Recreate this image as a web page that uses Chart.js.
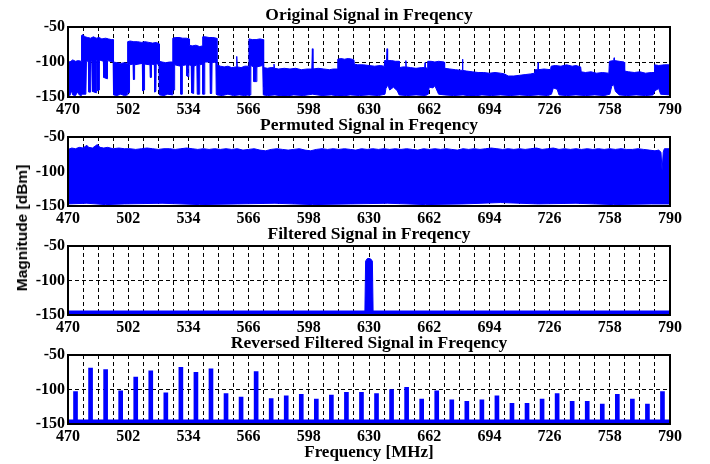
<!DOCTYPE html>
<html>
<head>
<meta charset="utf-8">
<script src="https://cdn.jsdelivr.net/npm/chart.js@4.4.0/dist/chart.umd.min.js"></script>
<style>
  body { margin: 0; background: #fff; }
  #wrap { position: relative; width: 710px; height: 464px; overflow: hidden; }
  #wrap canvas { position: absolute; left: 0; }
  .ylab {
    position: absolute; left: 21.5px; top: 228px;
    transform: translate(-50%, -50%) rotate(-90deg);
    font: bold 15.5px "Liberation Sans", Arial, sans-serif;
    white-space: nowrap; color: #000;
  }
</style>
</head>
<body>
<div id="wrap">
  <canvas id="c1" width="710" height="120" style="top:0px"></canvas>
  <canvas id="c2" width="710" height="119" style="top:110px"></canvas>
  <canvas id="c3" width="710" height="119" style="top:219px"></canvas>
  <canvas id="c4" width="710" height="136" style="top:328px"></canvas>
  <div class="ylab">Magnitude [dBm]</div>
</div>
<script>
// x range + labels
const fMin = 470, fMax = 790;
const xLabels = [470, 502, 534, 566, 598, 630, 662, 694, 726, 758, 790];
const yTicks = [-150, -100, -50];

// original signal: upper / lower envelope [MHz, dBm]
const top1 = [[470,-98],[471,-100],[472.5,-97],[474,-99],[475.5,-98],[477,-99],
  [477.2,-62],[478,-61],[479,-64],[480.5,-65],[482,-66],[483.5,-64],[485,-66],[486.5,-65],[488,-67],[490,-66],[491.5,-67],[493,-68],[494,-68],
  [494.2,-100],[496,-101],[498,-102],[500,-101],[501.5,-102],
  [501.7,-71],[503,-70],[505,-71],[507,-71],[509,-72],[511,-71],[513,-72],[515,-73],[517,-72],[518.4,-74],
  [518.6,-99],[520,-100],[522,-101],[524,-100],[525.5,-100],
  [525.7,-66],[527,-65],[529,-65],[531,-66],[533,-66],[534.4,-67],
  [534.6,-76],[536,-77],[538,-76],[540,-78],[541.4,-77],
  [541.6,-64],[543,-64],[545,-65],[547,-65],[549,-66],
  [549.2,-104],[551,-106],[553,-107],[555,-106],[557,-108],[559.4,-107],[559.7,-92],[560,-107],[562,-108],[564,-106],[566,-106],
  [566.2,-67],[568,-68],[570,-68],[572,-67],[573.8,-68],
  [574,-108],[576,-109],[578,-108],[579.3,-108],[579.5,-103],[579.8,-109],[582,-110],[585,-109],[588,-110],[591,-109],[594,-111],[597,-110],[599.6,-110],[599.9,-81],[600.2,-110],[603,-109],[606,-110],[609,-111],[611,-110],[613.2,-110],
  [613.4,-96],[615,-95],[617,-96],[619,-95],[621,-96],[622,-97],
  [622.2,-103],[624,-104],[627,-104],[630,-105],[633,-106],[636,-105],[638,-106],
  [638.2,-98],[639.3,-98],[639.6,-81],[639.9,-98],[642,-98],[644,-99],[646,-99],
  [646.2,-108],[648,-107],[649.4,-107],[649.6,-98],[649.8,-107],[652,-108],[655,-109],[658,-108],[659.6,-108],[659.8,-101],[660,-108],[661,-109],
  [661.2,-99],[663,-99],[665,-100],[667,-99],[670,-100],
  [670.2,-109],[673,-110],[676,-111],[679.5,-112],[679.7,-96],[679.9,-112],[682,-113],[685,-114],[688,-115],[691,-115],[694,-116],[697,-115],[700,-116],[702,-117],
  [704,-120],[707,-120],[710,-119],[713,-118],[716,-117],[718,-116],
  [718.3,-111],[719.7,-111],[719.9,-101],[720.1,-111],[723,-110],[726.5,-111],
  [726.8,-106],[729,-105],[732,-106],[735,-104],[738,-106],[740,-105],[742.5,-107],
  [742.8,-114],[745,-115],[748,-114],[751,-116],[754,-115],[757.5,-116],
  [757.8,-99],[760.1,-98],[760.3,-94],[760.5,-98],[763,-99],[765.6,-100],
  [765.9,-113],[768,-114],[771,-115],[774,-114],[777,-116],[780,-115],[781.5,-115],
  [781.8,-104],[784,-105],[787,-104],[790,-104]];
const bot1 = [[470,-146],[471,-148],[472,-141],[472.5,-147],[474,-148],[475,-143],[476,-147],[477,-148],
  [477.2,-146],[479.5,-146],[479.8,-100],[480.8,-98],[481.1,-143],[482,-143],[482.3,-97],[482.8,-100],[483,-142],[485,-144],[485.2,-98],[485.6,-97],[485.8,-141],[486.5,-140],[486.7,-97],[488.8,-99],[489,-122],[490.8,-124],[491,-98],[494,-100],
  [494.2,-147],[496,-148],[498,-146],[500,-148],[501.5,-147],
  [501.8,-143],[502.5,-144],[502.7,-104],[504.6,-103],[504.8,-125],[505.2,-125],[505.4,-104],[509.5,-102],[509.7,-141],[510.5,-140],[510.7,-103],[513.6,-104],[513.8,-122],[514.2,-122],[514.4,-103],[515.9,-104],[516.1,-143],[516.7,-142],[516.9,-102],[518.4,-104],
  [518.6,-147],[521,-148],[523,-146],[525.5,-147],
  [525.7,-140],[526.5,-140],[526.7,-104],[529.8,-106],[530,-146],[530.6,-146],[530.8,-105],[533,-104],[533.2,-120],[534,-121],[534.2,-104],[535.5,-105],[535.7,-144],[536.8,-145],[537,-106],[538.5,-104],[538.7,-146],[539.8,-146],[540,-104],[541.5,-103],[541.7,-146],[542.5,-146],[542.7,-100],[545.5,-100],[545.7,-145],[546.4,-145],[546.6,-101],[548.6,-100],[548.8,-146],
  [549.2,-147],[552,-148],[555,-146],[558,-148],[561,-147],[564,-148],[566,-147],
  [566.2,-148],[567,-147],[567.2,-105],[568.6,-107],[568.8,-128],[570.2,-128],[570.4,-107],[573.5,-105],[573.8,-147],
  [576,-148],[580,-147],[585,-149],[590,-147],[595,-148],[600,-146],[605,-148],[610,-147],[615,-149],[620,-147],[625,-148],[630,-147],[635,-148],
  [638.5,-146],[639,-138],[640,-133],[641,-140],[643,-136],[645,-141],[646,-147],[650,-148],[655,-147],[660,-148],
  [661.5,-146],[662,-136],[664,-137],[665,-134],[667,-146],[670,-147],[675,-148],[680,-147],[685,-149],[690,-147],[695,-148],[700,-147],[705,-148],[710,-147],[715,-148],[720,-147],[725,-148],
  [727,-146],[728,-137],[730,-139],[731,-147],[735,-148],[740,-147],[745,-148],[750,-147],[755,-148],
  [758,-146],[759,-135],[760,-132],[761,-142],[763,-147],[767,-148],[772,-147],[777,-148],[781,-147],[782,-141],[784,-138],[785,-146],[790,-147]];

// permuted signal envelopes
const top2 = [[470,-68],[472,-66],[474,-67],[476,-65],[478,-66],[480,-62],[481,-65],[483,-66],[485.6,-61],[487,-65],[489,-66],[491,-65],[494,-67],[497,-66],[500,-67],[503,-67],[506,-68],[509,-67],[512,-66],[515,-67],[518,-68],[521,-67],[524,-67],[527,-68],[530,-67],[533,-66],[536,-67],[539,-68],[542,-67],[545,-68],[548,-67],[551,-68],[554,-67],[557,-68],[560,-67],[563,-69],[566,-68],[569,-67],[572,-69],[575,-70],[578,-68],[581,-67],[584,-68],[587,-69],[590,-68],[593,-67],[596,-69],[599,-70],[602,-68],[605,-67],[608,-68],[611,-67],[614,-68],[617,-67],[620,-68],[623,-69],[626,-67],[629,-68],[632,-67],[635,-68],[638,-67],[641,-68],[644,-67],[647,-68],[650,-67],[653,-68],[656,-69],[659,-67],[662,-68],[665,-67],[668,-68],[671,-67],[674,-68],[677,-69],[680,-67],[683,-68],[686,-67],[689,-68],[692,-67],[695,-66],[698,-67],[701,-68],[704,-67],[707,-68],[710,-67],[713,-68],[716,-67],[719,-66],[722,-68],[725,-67],[728,-66],[731,-68],[734,-67],[737,-68],[740,-67],[743,-68],[746,-67],[749,-68],[752,-67],[755,-68],[758,-67],[761,-68],[764,-67],[767,-68],[770,-68],[773,-67],[776,-68],[779,-69],[782,-70],[784,-69],[785.2,-72],[785.8,-99],[786.4,-72],[787,-67],[790,-67]];
const bot2 = [[470,-147],[480,-146],[490,-148],[500,-147],[520,-146],[540,-148],[560,-147],[580,-146],[600,-148],[620,-147],[640,-146],[660,-148],[680,-147],[700,-145],[720,-147],[740,-146],[760,-148],[780,-147],[790,-147]];

// filtered signal
const floorF = [470, 790];
const floorV = [-147, -147];
const peak3 = [[627.8,-147],[628.2,-72],[629,-68.5],[630,-68],[631,-69],[631.8,-72],[632.2,-147]];
const peak3Base = [[627.8,-147],[632.2,-147]];

// reversed filtered signal: stems
const stemF = [474,482,490,498,506,514,522,530,538,546,554,562,570,578,586,594,602,610,618,626,634,642,650,658,666,674,682,690,698,706,714,722,730,738,746,754,762,770,778,786];
const stemV = [-103,-69,-71,-102,-82,-73,-105,-68,-75,-70,-106,-111,-74,-113,-109,-107,-114,-108,-104,-104,-106,-100,-97,-114,-102,-115,-117,-115,-109,-120,-120,-114,-106,-117,-117,-121,-107,-114,-121,-103];

const BLUE = '#0000ff';
const SERIF = '"Liberation Serif", "Times New Roman", serif';
const tickFont = { family: SERIF, size: 16, weight: 'bold' };
const titleFont = { family: SERIF, size: 17.5, weight: 'bold', lineHeight: 1.2 };
const xTitleFont = { family: SERIF, size: 17, weight: 'bold', lineHeight: 1.2 };

const toPts = arr => arr.map(p => ({ x: p[0], y: p[1] }));

const frame = {
  id: 'frame',
  afterDatasetsDraw(chart) {
    const { ctx, chartArea: a } = chart;
    ctx.save();
    ctx.strokeStyle = '#000';
    ctx.lineWidth = 2;
    ctx.strokeRect(a.left, a.top, a.right - a.left, a.bottom - a.top);
    ctx.restore();
  }
};

function options(title, xHeight, xTitle) {
  return {
    responsive: false,
    animation: false,
    layout: { padding: { left: 0, right: 40, top: 0, bottom: 0 } },
    plugins: {
      legend: { display: false },
      tooltip: { enabled: false },
      title: {
        display: true, text: title, color: '#000', fullSize: false,
        font: titleFont,
        padding: { top: 5, bottom: 1 }
      }
    },
    scales: {
      x: {
        type: 'linear', min: fMin, max: fMax, offset: false,
        afterFit: s => { s.height = xHeight; },
        grid: { color: '#000', lineWidth: 1, drawTicks: false, offset: false },
        border: { display: false, dash: [4, 3] },
        ticks: {
          stepSize: 8, autoSkip: false, maxRotation: 0, minRotation: 0, padding: 3,
          color: '#000', font: tickFont,
          callback: v => xLabels.includes(v) ? String(v) : ''
        },
        title: xTitle ? {
          display: true, text: xTitle, color: '#000',
          font: xTitleFont,
          padding: { top: 0, bottom: 1.5 }
        } : { display: false }
      },
      y: {
        type: 'linear', min: -150, max: -50,
        afterFit: s => { s.width = 68; },
        afterBuildTicks: s => { s.ticks = yTicks.map(v => ({ value: v })); },
        grid: { color: '#000', lineWidth: 1, drawTicks: false },
        border: { display: false, dash: [4, 3] },
        ticks: { padding: 3, color: '#000', font: tickFont }
      }
    }
  };
}

// two outlines, filled between
const band = (up, lo) => [
  { data: toPts(up), borderColor: BLUE, backgroundColor: BLUE, borderWidth: 1, pointRadius: 0, fill: '+1', tension: 0 },
  { data: toPts(lo), borderColor: BLUE, backgroundColor: BLUE, borderWidth: 1, pointRadius: 0, fill: false, tension: 0 }
];
const floorLine = () => ({
  data: floorF.map((f, i) => ({ x: f, y: floorV[i] })),
  borderColor: BLUE, borderWidth: 5, pointRadius: 0, fill: false
});

new Chart(document.getElementById('c1'), {
  type: 'line',
  data: { datasets: band(top1, bot1) },
  options: options('Original Signal in Freqency', 23),
  plugins: [frame]
});

new Chart(document.getElementById('c2'), {
  type: 'line',
  data: { datasets: band(top2, bot2) },
  options: options('Permuted Signal in Freqency', 23),
  plugins: [frame]
});

new Chart(document.getElementById('c3'), {
  type: 'line',
  data: { datasets: [floorLine(), ...band(peak3, peak3Base)] },
  options: options('Filtered Signal in Freqency', 23),
  plugins: [frame]
});

new Chart(document.getElementById('c4'), {
  type: 'line',
  data: {
    datasets: [
      floorLine(),
      {
        type: 'bar',
        data: stemF.map((f, i) => ({ x: f, y: [-147, stemV[i]] })),
        backgroundColor: BLUE, borderWidth: 0, barThickness: 4,
        borderRadius: 2
      }
    ]
  },
  options: options('Reversed Filtered Signal in Freqency', 40, 'Frequency [MHz]'),
  plugins: [frame]
});
</script>
</body>
</html>
